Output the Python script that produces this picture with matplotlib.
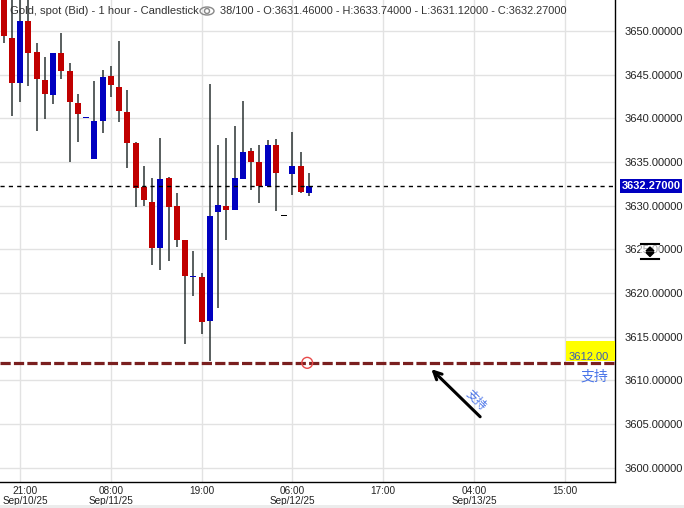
import matplotlib.pyplot as plt
import matplotlib.transforms as mtransforms
from matplotlib.patches import Ellipse, Circle, Rectangle, Polygon
from matplotlib.lines import Line2D
import numpy as np

plt.rcParams['font.family'] = ['Liberation Sans', 'DejaVu Sans']

# hourly bars, first one at 19:00 Sep/10/25 (hour offsets from 21:00)
hours = list(range(-2, 36))
opens = [3655.0, 3649.2, 3644.0, 3651.2, 3647.6, 3644.4, 3642.7, 3647.5, 3645.4, 3641.8,
         3640.0, 3635.4, 3639.7, 3644.8, 3643.6, 3640.7, 3637.2, 3632.1, 3630.4, 3625.2,
         3633.2, 3630.0, 3626.1, 3621.8, 3621.8, 3616.8, 3629.3, 3630.0, 3629.5, 3633.1,
         3636.3, 3635.0, 3632.2, 3637.0, 3628.8, 3633.6, 3634.6, 3631.46]
highs = [3656.0, 3654.5, 3654.5, 3654.0, 3648.6, 3647.0, 3647.5, 3649.8, 3646.3, 3642.8,
         3640.1, 3644.3, 3645.5, 3646.0, 3648.9, 3643.3, 3637.3, 3634.5, 3633.2, 3637.8,
         3633.3, 3631.5, 3626.1, 3624.8, 3622.3, 3643.9, 3637.0, 3637.8, 3639.1, 3642.0,
         3636.6, 3637.0, 3637.5, 3637.6, 3628.8, 3638.4, 3636.2, 3633.74]
lows = [3648.6, 3640.3, 3641.9, 3643.7, 3638.5, 3639.9, 3641.7, 3644.5, 3635.0, 3637.3,
        3640.0, 3635.4, 3638.3, 3642.5, 3639.6, 3634.3, 3629.8, 3630.0, 3623.2, 3622.6,
        3623.7, 3625.3, 3614.1, 3619.7, 3615.3, 3612.2, 3618.3, 3626.1, 3629.5, 3633.0,
        3631.8, 3630.3, 3632.1, 3629.4, 3628.8, 3631.2, 3631.4, 3631.12]
closes = [3649.4, 3644.0, 3651.2, 3647.5, 3644.5, 3642.8, 3647.5, 3645.4, 3641.9, 3640.5,
          3640.1, 3639.7, 3644.7, 3643.8, 3640.9, 3637.2, 3632.0, 3630.6, 3625.2, 3633.1,
          3629.9, 3626.1, 3622.0, 3621.9, 3616.7, 3628.8, 3630.1, 3629.5, 3633.2, 3636.2,
          3635.0, 3632.3, 3637.0, 3633.8, 3628.8, 3634.6, 3631.6, 3632.27]

tick_hours = [0, 11, 22, 33, 44, 55, 66]
tick_labels = ['21:00\nSep/10/25', '08:00\nSep/11/25', '19:00', '06:00\nSep/12/25',
               '17:00', '04:00\nSep/13/25', '15:00']
price_ticks = [3600, 3605, 3610, 3615, 3620, 3625, 3630, 3635, 3640, 3645, 3650]
last_price = 3632.27
support = 3612.00

fig = plt.figure(figsize=(6.84, 5.08), dpi=100)
ax = fig.add_axes([0, 26 / 508, 615 / 684, 482 / 508])

# pixel transform (x right, y down from top-left of the image)
pxt = mtransforms.Affine2D().scale(1 / 100, -1 / 100).translate(0, 5.08) + fig.dpi_scale_trans

o = np.array(opens)
c = np.array(closes)
colors = np.where(c > o, '#0000c0', np.where(c < o, '#c00000', '#000000'))
body_low = np.minimum(o, c)
body_h = np.maximum(np.abs(c - o), 0.13)

ax.vlines(hours, lows, highs, color='#2b3333', lw=1.1, zorder=2)
ax.bar(hours, body_h, bottom=body_low, width=0.73, color=colors, lw=0, zorder=3)

ax.set_xlim(-2.43, 72.1)
ax.set_ylim(3598.35, 3653.56)

ax.set_xticks(tick_hours)
ax.set_xticklabels(tick_labels, fontsize=7.2, linespacing=0.95, color='#222222')
ax.set_yticks(price_ticks)
ax.set_yticklabels(['%.5f' % p for p in price_ticks], fontsize=8, color='#222222')
ax.yaxis.tick_right()
ax.tick_params(axis='both', length=0)
ax.tick_params(axis='y', pad=7)
ax.tick_params(axis='x', pad=3)
ax.grid(True, color='#e2e2e2', lw=1)
ax.set_axisbelow(True)
for s in ['left', 'top']:
    ax.spines[s].set_visible(False)
for s in ['right', 'bottom']:
    ax.spines[s].set_color('black')
    ax.spines[s].set_linewidth(1)

# first date label is nudged right so it stays inside the picture
first = ax.get_xticklabels()[0]
first.set_transform(first.get_transform() + mtransforms.ScaledTranslation(5 / 100, 0, fig.dpi_scale_trans))

# current price line and label
ax.axhline(last_price, color='black', lw=1, ls=(0, (3, 3)), zorder=4)
ax.text(1.011, last_price, '%.5f' % last_price, transform=ax.get_yaxis_transform(),
        ha='left', va='center', fontsize=8, color='white', fontweight='bold',
        bbox=dict(facecolor='#0000c0', edgecolor='none', pad=1.2), clip_on=False)

# support line
ax.axhline(support, color='#7a1f1f', lw=2.3, ls=(0, (3.2, 1.0)), zorder=4)
ax.add_patch(Ellipse((34.8, support), 1.3, 1.25, fill=False, edgecolor='#e84a4a', lw=1, zorder=5))
ax.add_patch(Rectangle((66.2, support + 0.2), 5.9, 2.3, facecolor='#ffff00', edgecolor='none', zorder=5))
ax.text(66.5, support + 0.7, '%.2f' % support, fontsize=8, color='#3b5bb5', va='center', zorder=6)
ax.text(69.6, support - 1.6, '支持', fontsize=10, color='#4a74e8', ha='center', va='center',
        family=['Noto Sans CJK SC', 'DejaVu Sans'], zorder=6)

ax.annotate('', xy=(49.6, support - 0.5), xytext=(56.0, support - 6.4),
            arrowprops=dict(arrowstyle='->', color='black', lw=2.2, mutation_scale=14), zorder=6)
ax.text(55.3, support - 4.2, '支持', fontsize=8.5, color='#4a74e8', rotation=-45,
        ha='center', va='center', family=['Noto Sans CJK SC', 'DejaVu Sans'], zorder=6)

# header
fig.text(10, 11, 'Gold, spot (Bid) - 1 hour - Candlestick', transform=pxt,
         fontsize=8.1, color='#333333', va='center')
fig.add_artist(Ellipse((207, 11), 14, 8, transform=pxt, fill=False, edgecolor='#888888', lw=1))
fig.add_artist(Circle((207, 11), 2.5, transform=pxt, fill=False, edgecolor='#888888', lw=1))
fig.text(220, 11, '38/100 - O:3631.46000 - H:3633.74000 - L:3631.12000 - C:3632.27000',
         transform=pxt, fontsize=7.95, color='#333333', va='center')

# scale handle icon on the price axis
fig.add_artist(Rectangle((640, 242), 20, 19, transform=pxt, facecolor='white', alpha=0.6, edgecolor='none'))
fig.add_artist(Line2D([641, 659], [244, 244], transform=pxt, color='black', lw=1.5))
fig.add_artist(Line2D([641, 659], [259, 259], transform=pxt, color='black', lw=1.5))
fig.add_artist(Polygon([[646, 251], [654, 251], [650, 247]], transform=pxt, color='black'))
fig.add_artist(Polygon([[646, 252.5], [654, 252.5], [650, 256.5]], transform=pxt, color='black'))

fig.add_artist(Rectangle((0, 505), 684, 3, transform=pxt, facecolor='#ececec', edgecolor='none'))

fig.savefig('out.png', dpi=100)
